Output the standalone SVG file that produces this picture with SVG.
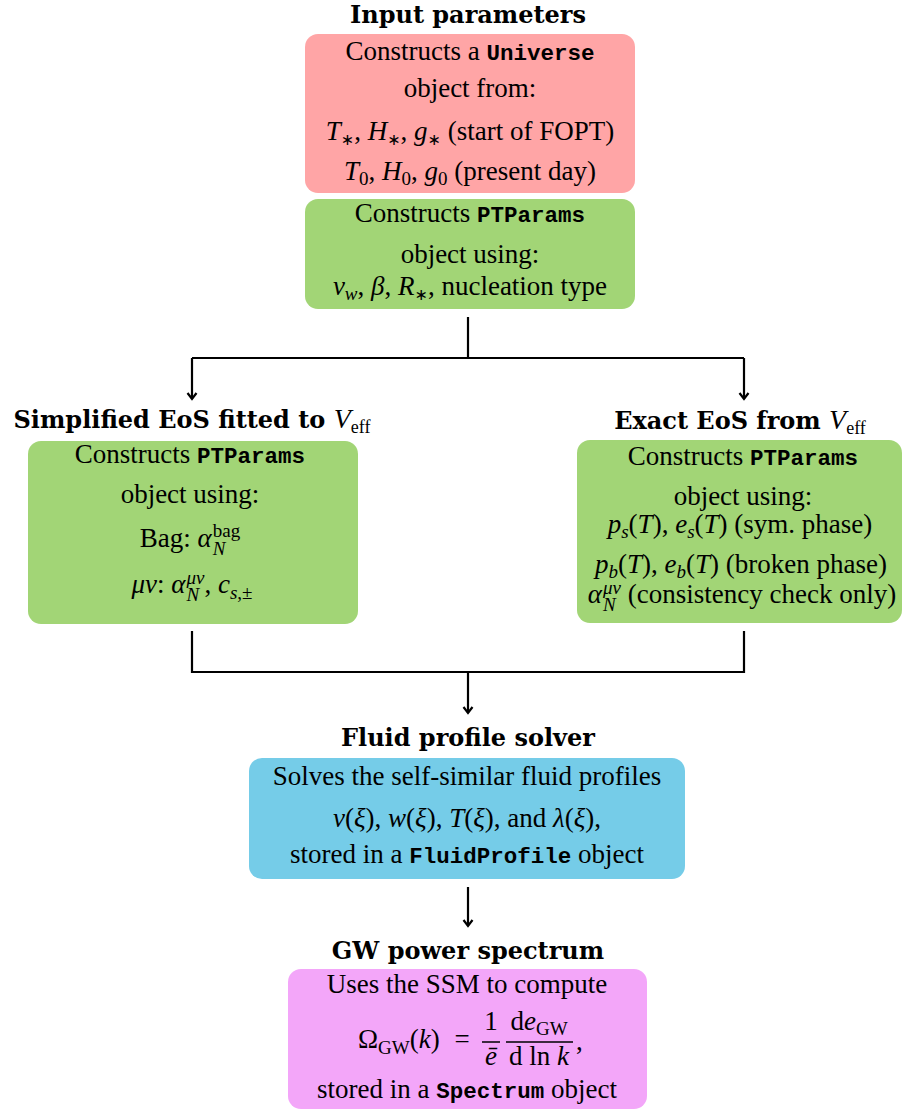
<svg xmlns="http://www.w3.org/2000/svg" width="906" height="1111" viewBox="0 0 906 1111">
<defs>
<style>
.t{font-family:"Liberation Serif","Times New Roman",serif;font-size:27px;fill:#000;text-anchor:middle}
.ts{font-family:"Liberation Serif","Times New Roman",serif;font-size:27px;fill:#000}
.h{font-family:"DejaVu Serif",serif;font-size:24px;font-weight:bold;fill:#000;text-anchor:middle}
.m{font-family:"Liberation Mono","Courier New",monospace;font-size:22.5px;font-weight:bold}
.i{font-style:italic}
.s{font-size:19px}
.ast{font-family:"DejaVu Sans",sans-serif;font-size:16px}
.hn{font-family:"Liberation Serif","Times New Roman",serif;font-weight:normal;font-size:28px}
.hs{font-family:"Liberation Serif","Times New Roman",serif;font-weight:normal;font-size:18px}
.red{fill:#FFA5A6}
.grn{fill:#A2D576}
.blu{fill:#75CCE8}
.pnk{fill:#F3A6F9}
.ln{stroke:#000;stroke-width:2.2;fill:none}
</style>
<marker id="arr" markerWidth="14" markerHeight="14" refX="0" refY="0" viewBox="-8 -7 10 14" orient="auto" markerUnits="userSpaceOnUse">
<path d="M-6,-4.5 L0,0 L-6,4.5" fill="none" stroke="#000" stroke-width="2.2"/>
</marker>
</defs>

<g id="connectors">
<path class="ln" d="M468,317 V358"/>
<path class="ln" d="M192,358 H744"/>
<path class="ln" d="M192,358 V399" marker-end="url(#arr)"/>
<path class="ln" d="M744,358 V399" marker-end="url(#arr)"/>
<path class="ln" d="M192,631 V672 H744 V631"/>
<path class="ln" d="M468,672 V713" marker-end="url(#arr)"/>
<path class="ln" d="M468,887 V926" marker-end="url(#arr)"/>
</g>

<g id="input-parameters">
<text class="h" x="468" y="23">Input parameters</text>
<rect class="red" x="305" y="34" width="330" height="159" rx="13"/>
<text class="t" x="470" y="60">Constructs a <tspan class="m">Universe</tspan></text>
<text class="t" x="470" y="97">object from:</text>
<text class="t" x="470" y="140"><tspan class="i">T</tspan><tspan class="ast" dy="5">∗</tspan><tspan dy="-5">, </tspan><tspan class="i">H</tspan><tspan class="ast" dy="5">∗</tspan><tspan dy="-5">, </tspan><tspan class="i">g</tspan><tspan class="ast" dy="5">∗</tspan><tspan dy="-5"> (start of FOPT)</tspan></text>
<text class="t" x="470" y="180"><tspan class="i">T</tspan><tspan class="s" dy="5">0</tspan><tspan dy="-5">, </tspan><tspan class="i">H</tspan><tspan class="s" dy="5">0</tspan><tspan dy="-5">, </tspan><tspan class="i">g</tspan><tspan class="s" dy="5">0</tspan><tspan dy="-5"> (present day)</tspan></text>
</g>

<g id="ptparams-top">
<rect class="grn" x="305" y="199" width="330" height="110" rx="13"/>
<text class="t" x="470" y="222">Constructs <tspan class="m">PTParams</tspan></text>
<text class="t" x="470" y="263">object using:</text>
<text class="t" x="470" y="295"><tspan class="i">v</tspan><tspan class="s i" dy="5">w</tspan><tspan dy="-5">, </tspan><tspan class="i">β</tspan>, <tspan class="i">R</tspan><tspan class="ast" dy="5">∗</tspan><tspan dy="-5">, nucleation type</tspan></text>
</g>

<g id="simplified-eos">
<text class="h" x="192" y="428">Simplified EoS fitted to <tspan class="hn i">V</tspan><tspan class="hs" dy="5">eff</tspan></text>
<rect class="grn" x="28" y="441" width="330" height="183" rx="13"/>
<text class="t" x="190" y="463">Constructs <tspan class="m">PTParams</tspan></text>
<text class="t" x="190" y="503">object using:</text>
<text class="t" x="190" y="547">Bag: <tspan class="i">α</tspan><tspan class="s i" dx="1" dy="8">N</tspan><tspan class="s" dx="-12.7" dy="-18">bag</tspan></text>
<text class="t" x="192" y="593"><tspan class="i">μν</tspan>: <tspan class="i">α</tspan><tspan class="s i" dx="1" dy="8">N</tspan><tspan class="s i" dx="-12.7" dy="-17">μν</tspan><tspan dy="9">, </tspan><tspan class="i">c</tspan><tspan class="s" dy="6"><tspan class="i">s</tspan>,±</tspan></text>
</g>

<g id="exact-eos">
<text class="h" x="740" y="429">Exact EoS from <tspan class="hn i">V</tspan><tspan class="hs" dy="5">eff</tspan></text>
<rect class="grn" x="577" y="440" width="325" height="183" rx="13"/>
<text class="t" x="743" y="465">Constructs <tspan class="m">PTParams</tspan></text>
<text class="t" x="743" y="505">object using:</text>
<text class="t" x="740" y="533"><tspan class="i">p</tspan><tspan class="s i" dy="5">s</tspan><tspan dy="-5">(</tspan><tspan class="i">T</tspan>), <tspan class="i">e</tspan><tspan class="s i" dy="5">s</tspan><tspan dy="-5">(</tspan><tspan class="i">T</tspan>) (sym. phase)</text>
<text class="t" x="741" y="573"><tspan class="i">p</tspan><tspan class="s i" dy="5">b</tspan><tspan dy="-5">(</tspan><tspan class="i">T</tspan>), <tspan class="i">e</tspan><tspan class="s i" dy="5">b</tspan><tspan dy="-5">(</tspan><tspan class="i">T</tspan>) (broken phase)</text>
<text class="t" x="742" y="603"><tspan class="i">α</tspan><tspan class="s i" dx="1" dy="8">N</tspan><tspan class="s i" dx="-12.7" dy="-17">μν</tspan><tspan dy="9"> (consistency check only)</tspan></text>
</g>

<g id="fluid-profile-solver">
<text class="h" x="468" y="746">Fluid profile solver</text>
<rect class="blu" x="249" y="758" width="436" height="121" rx="13"/>
<text class="t" x="467" y="785">Solves the self-similar fluid profiles</text>
<text class="t" x="467" y="827"><tspan class="i">v</tspan>(<tspan class="i">ξ</tspan>), <tspan class="i">w</tspan>(<tspan class="i">ξ</tspan>), <tspan class="i">T</tspan>(<tspan class="i">ξ</tspan>), and <tspan class="i">λ</tspan>(<tspan class="i">ξ</tspan>),</text>
<text class="t" x="467" y="863">stored in a <tspan class="m">FluidProfile</tspan> object</text>
</g>

<g id="gw-power-spectrum">
<text class="h" x="468" y="959">GW power spectrum</text>
<rect class="pnk" x="288" y="969" width="359" height="140" rx="13"/>
<text class="t" x="467" y="993">Uses the SSM to compute</text>
<text class="ts" x="358" y="1048">Ω<tspan class="s" dy="6">GW</tspan><tspan dy="-6">(</tspan><tspan class="i">k</tspan>)</text>
<text class="t" x="462" y="1048">=</text>
<text class="t" x="491" y="1030">1</text>
<path d="M482,1042 H500 M506,1042 H573" stroke="#000" stroke-width="1.3"/>
<text class="t i" x="491" y="1065">ē</text>
<text class="t" x="539" y="1030">d<tspan class="i">e</tspan><tspan class="s" dy="5">GW</tspan></text>
<text class="t" x="539" y="1065">d ln <tspan class="i">k</tspan></text>
<text class="ts" x="576" y="1050">,</text>
<text class="t" x="467" y="1098">stored in a <tspan class="m">Spectrum</tspan> object</text>
</g>
</svg>
